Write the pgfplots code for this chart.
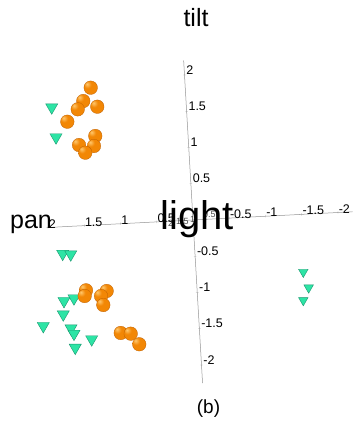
\documentclass[border=0pt]{standalone}
\usepackage{pgfplots}
\pgfplotsset{compat=1.18}
\usepackage{fontspec}
\setmainfont{Liberation Sans}
\definecolor{ballorange}{RGB}{242,135,5}
\definecolor{balllight}{RGB}{255,200,110}
\definecolor{balldark}{RGB}{190,95,0}
\definecolor{cone}{RGB}{45,228,165}
\definecolor{conedark}{RGB}{25,150,110}
\pgfdeclareradialshading{orangeball}{\pgfpoint{-14bp}{14bp}}{%
  color(0bp)=(balllight); color(14bp)=(ballorange); color(46bp)=(ballorange);
  color(62bp)=(balldark); color(100bp)=(balldark)}
\pgfdeclareplotmark{oball}{%
  \pgfpathcircle{\pgfpointorigin}{\pgfplotmarksize}%
  \pgfshadepath{orangeball}{0}%
  \pgfusepath{}%
  \pgfpathcircle{\pgfpointorigin}{\pgfplotmarksize}%
  \pgfsetstrokecolor{balldark}\pgfsetlinewidth{0.3pt}\pgfusepath{stroke}}
\begin{document}
\begin{tikzpicture}[x=1pt,y=1pt]
\path[use as bounding box] (0,0) rectangle (353,422);
\begin{axis}[
  x={(-72.5pt,-3.75pt)}, y={(-4.25pt,72.5pt)},
  anchor=origin, at={(193pt,202pt)},
  axis lines=center, axis line style={gray!85,-,line width=0.5pt},
  xmin=-2.2, xmax=2.02, ymin=-2.25, ymax=2.2,
  xtick={-2,-1.5,-1,-0.5,0.5,1,1.5,2},
  ytick={-2,-1.5,-1,-0.5,0.5,1,1.5,2},
  tick style={gray!70}, major tick length=2.5pt,
  ticklabel style={font=\fontsize{12.5}{13}\selectfont, anchor=south west, inner sep=0.5pt},
  /pgf/number format/assume math mode=true,
  clip=false,
]
\addplot[only marks, mark=triangle*, mark size=7pt,
  mark options={rotate=180, fill=cone, draw=conedark, line width=0.4pt}]
  coordinates {
  (1.852,1.650) (1.817,1.235) (1.819,-0.371) (1.709,-0.385)
  (1.839,-1.022) (1.700,-0.992) (1.860,-1.205) (2.144,-1.351)
  (1.765,-1.403) (1.728,-1.479) (1.489,-1.568) (1.722,-1.672)
  };
\addplot[only marks, mark=triangle*, mark size=5.5pt,
  mark options={rotate=180, fill=cone, draw=conedark, line width=0.4pt}]
  coordinates {
  (-1.475,-0.794) (-1.536,-1.013) (-1.452,-1.183)
  };
\addplot[only marks, mark=oball, mark size=6.8pt]
  coordinates {
  (1.300,1.892) (1.413,1.714) (1.496,1.604) (1.225,1.626) (1.649,1.441)
  (1.276,1.225) (1.507,1.112) (1.302,1.088) (1.427,1.002)
  (1.528,-0.891) (1.551,-0.968) (1.244,-0.915) (1.326,-0.980) (1.302,-1.105)
  (1.085,-1.502) (0.948,-1.519) (0.839,-1.671)
  };
\end{axis}
% light-axis tick labels cluttered around the origin
\node[font=\fontsize{9}{9}\selectfont, gray!60!black, anchor=south west, inner sep=0pt] at (168,195) {2};
\node[font=\fontsize{9}{9}\selectfont, gray!60!black, anchor=south west, inner sep=0pt] at (176,197) {1.5};
\node[font=\fontsize{9}{9}\selectfont, gray!60!black, anchor=south west, inner sep=0pt] at (190,199) {1};
\node[font=\fontsize{9}{9}\selectfont, gray!60!black, anchor=south west, inner sep=0pt] at (203,204) {0.5};
\node[font=\fontsize{40}{40}\selectfont, inner sep=0pt] at (197,203) {light};
\node[font=\fontsize{25}{25}\selectfont, anchor=base, inner sep=0pt] at (196,395) {tilt};
\node[font=\fontsize{25}{25}\selectfont, anchor=base, inner sep=0pt] at (31,193) {pan};
\node[font=\fontsize{19}{19}\selectfont, anchor=base, inner sep=0pt] at (208.5,9) {(b)};
\end{tikzpicture}
\end{document}
